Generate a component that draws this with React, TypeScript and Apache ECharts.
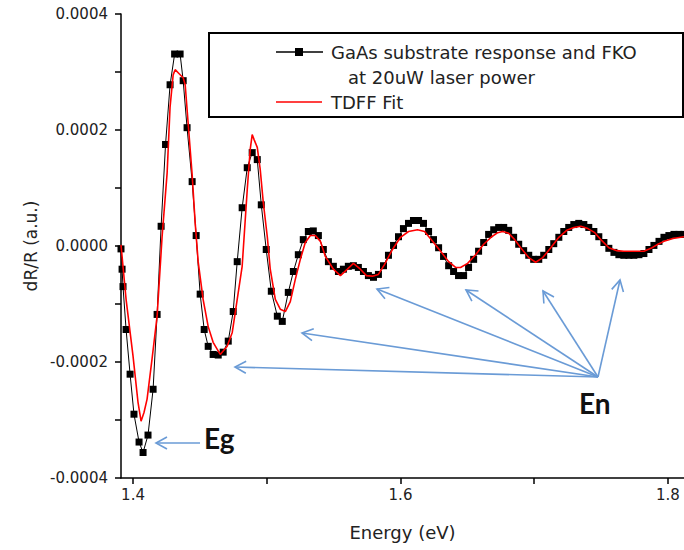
import React, { useEffect, useRef } from "react";
import * as echarts from "echarts";

// Measured spectrum (energy in eV, dR/R in units of 1e-4)
const energy = [
  1.3910, 1.3918, 1.3925, 1.3948, 1.3978, 1.4007, 1.4045, 1.4075, 1.4112, 1.4150,
  1.4180, 1.4210, 1.4243, 1.4277, 1.4311, 1.4352, 1.4375, 1.4404, 1.4442, 1.4472,
  1.4502, 1.4532, 1.4562, 1.4599, 1.4637, 1.4674, 1.4712, 1.4749, 1.4779, 1.4816,
  1.4854, 1.4891, 1.4929, 1.4959, 1.4996, 1.5034, 1.5079, 1.5116, 1.5161, 1.5199,
  1.5236, 1.5273, 1.5311, 1.5348, 1.5386, 1.5423, 1.5461, 1.5498, 1.5536, 1.5573,
  1.5610, 1.5648, 1.5685, 1.5723, 1.5760, 1.5798, 1.5835, 1.5873, 1.5910, 1.5948,
  1.5985, 1.6022, 1.6060, 1.6097, 1.6135, 1.6172, 1.6210, 1.6247, 1.6285, 1.6322,
  1.6360, 1.6397, 1.6434, 1.6472, 1.6509, 1.6547, 1.6584, 1.6622, 1.6659, 1.6697,
  1.6734, 1.6772, 1.6809, 1.6846, 1.6884, 1.6921, 1.6959, 1.6996, 1.7034, 1.7071,
  1.7109, 1.7146, 1.7184, 1.7221, 1.7258, 1.7296, 1.7333, 1.7371, 1.7408, 1.7446,
  1.7483, 1.7521, 1.7558, 1.7596, 1.7633, 1.7670, 1.7708, 1.7745, 1.7783, 1.7820,
  1.7858, 1.7895, 1.7933, 1.7970, 1.8007, 1.8045, 1.8082, 1.8120,
];
const measured = [
  -0.05, -0.40, -0.70, -1.44, -2.21, -2.90, -3.38, -3.56, -3.26, -2.47,
  -1.18, 0.34, 1.75, 2.78, 3.31, 3.31, 2.85, 2.04, 1.11, 0.18,
  -0.83, -1.44, -1.73, -1.87, -1.88, -1.83, -1.64, -1.13, -0.27, 0.66,
  1.35, 1.61, 1.49, 0.71, -0.06, -0.78, -1.21, -1.30, -0.80, -0.44,
  -0.15, 0.11, 0.25, 0.26, 0.18, -0.06, -0.27, -0.35, -0.44, -0.40,
  -0.35, -0.34, -0.37, -0.44, -0.51, -0.54, -0.49, -0.34, -0.16, 0.01,
  0.16, 0.30, 0.39, 0.44, 0.44, 0.39, 0.25, 0.11, -0.03, -0.18,
  -0.34, -0.44, -0.51, -0.51, -0.37, -0.23, -0.09, 0.06, 0.20, 0.28,
  0.32, 0.32, 0.27, 0.15, 0.03, -0.08, -0.16, -0.23, -0.23, -0.16,
  -0.06, 0.04, 0.15, 0.25, 0.32, 0.37, 0.39, 0.37, 0.32, 0.25,
  0.16, 0.06, -0.04, -0.11, -0.15, -0.16, -0.16, -0.16, -0.15, -0.13,
  -0.06, 0.01, 0.08, 0.15, 0.18, 0.20, 0.20, 0.20,
];

// TDFF fit curve
const fitEnergy = [
  1.3910, 1.3948, 1.4000, 1.4037, 1.4060, 1.4082, 1.4105, 1.4142, 1.4180, 1.4217,
  1.4255, 1.4277, 1.4300, 1.4315, 1.4345, 1.4375, 1.4390, 1.4412, 1.4442, 1.4464,
  1.4487, 1.4524, 1.4562, 1.4599, 1.4652, 1.4704, 1.4742, 1.4779, 1.4816, 1.4854,
  1.4876, 1.4891, 1.4906, 1.4929, 1.4951, 1.4974, 1.5004, 1.5026, 1.5064, 1.5101,
  1.5139, 1.5176, 1.5213, 1.5251, 1.5288, 1.5326, 1.5363, 1.5401, 1.5438, 1.5498,
  1.5551, 1.5603, 1.5648, 1.5700, 1.5745, 1.5790, 1.5835, 1.5880, 1.5940, 1.6000,
  1.6060, 1.6127, 1.6180, 1.6240, 1.6300, 1.6360, 1.6412, 1.6449, 1.6502, 1.6562,
  1.6622, 1.6682, 1.6727, 1.6764, 1.6809, 1.6854, 1.6899, 1.6959, 1.7011, 1.7064,
  1.7124, 1.7184, 1.7243, 1.7296, 1.7348, 1.7401, 1.7453, 1.7498, 1.7558, 1.7618,
  1.7670, 1.7820, 1.7873, 1.7925, 1.7970, 1.8037, 1.8120,
];
const fitValues = [
  0.02, -0.92, -1.90, -2.69, -3.02, -2.87, -2.64, -1.95, -1.21, 0.15,
  1.26, 2.40, 2.95, 3.04, 2.97, 2.90, 2.78, 2.12, 1.23, 0.42,
  -0.27, -0.92, -1.39, -1.66, -1.87, -1.73, -1.49, -0.92, -0.35, 0.97,
  1.66, 1.92, 1.83, 1.70, 1.32, 0.75, 0.16, -0.40, -0.92, -1.09,
  -1.13, -0.96, -0.58, -0.23, 0.06, 0.18, 0.18, 0.08, -0.18, -0.40,
  -0.51, -0.40, -0.30, -0.40, -0.51, -0.52, -0.49, -0.32, -0.06, 0.15,
  0.25, 0.28, 0.25, 0.08, -0.09, -0.27, -0.37, -0.37, -0.30, -0.15,
  0.03, 0.16, 0.23, 0.25, 0.22, 0.11, -0.03, -0.20, -0.28, -0.20,
  -0.03, 0.15, 0.27, 0.32, 0.34, 0.30, 0.23, 0.11, -0.03, -0.08,
  -0.09, -0.09, -0.04, 0.03, 0.08, 0.13, 0.16,
];

const xTickValues = [1.4, 1.5, 1.6, 1.7, 1.8];
const xLabelValues = [1.4, 1.6, 1.8];
const yLabelValues = [-4, -2, 0, 2, 4];
const legendLines = ["GaAs substrate response and FKO", "at 20uW laser power", "TDFF Fit"];
const xTitle = "Energy (eV)";
const yTitle = "dR/R (a.u.)";

const FONT = "'DejaVu Sans', Verdana, sans-serif";
const ARROW = "#6a9bd6";

function arrow(x1: number, y1: number, x2: number, y2: number) {
  const dx = x2 - x1, dy = y2 - y1;
  const L = Math.hypot(dx, dy);
  const ux = dx / L, uy = dy / L;
  const h = 11, w = 6;
  const p1 = [x2 - h * ux + w * uy, y2 - h * uy - w * ux];
  const p2 = [x2 - h * ux - w * uy, y2 - h * uy + w * ux];
  return [
    { type: "line", shape: { x1, y1, x2, y2 }, style: { stroke: ARROW, lineWidth: 1.6 } },
    { type: "polyline", shape: { points: [p1, [x2, y2], p2] }, style: { stroke: ARROW, lineWidth: 1.6, fill: null } },
  ];
}

export default function App() {
  const ref = useRef<HTMLDivElement>(null);
  useEffect(() => {
    if (!ref.current) return;
    const chart = echarts.init(ref.current, null, { renderer: "svg" });
    const enOrigin = [598, 377];
    const enTargets = [[235, 367], [302, 333], [377, 289], [466, 290], [543, 291], [620, 280]];
    const arrows: any[] = [];
    enTargets.forEach((t) => arrows.push(...arrow(enOrigin[0], enOrigin[1], t[0], t[1])));
    arrows.push(...arrow(200, 443, 156, 443));

    chart.setOption({
      animation: false,
      backgroundColor: "#fff",
      grid: { left: 121, right: 0, top: 14, bottom: 72, containLabel: false },
      xAxis: {
        type: "value",
        min: 1.391,
        max: 1.812,
        name: xTitle,
        nameLocation: "middle",
        nameGap: 45,
        nameTextStyle: { fontFamily: FONT, fontSize: 18, color: "#222" },
        axisLine: { show: true, onZero: false, lineStyle: { color: "#000", width: 1.5 } },
        axisTick: { show: true, customValues: xTickValues, length: 6, lineStyle: { color: "#000", width: 1.5 } },
        axisLabel: {
          customValues: xLabelValues,
          margin: 9,
          fontFamily: FONT,
          fontSize: 15,
          color: "#222",
          formatter: (v: number) => v.toFixed(1),
        },
        splitLine: { show: false },
      },
      yAxis: {
        type: "value",
        min: -4,
        max: 4,
        interval: 1,
        name: yTitle,
        nameLocation: "middle",
        nameGap: 80,
        nameTextStyle: { fontFamily: FONT, fontSize: 17, color: "#222" },
        axisLine: { show: true, onZero: false, lineStyle: { color: "#000", width: 1.5 } },
        axisTick: { show: true, length: 6, lineStyle: { color: "#000", width: 1.5 } },
        axisLabel: {
          margin: 13,
          fontFamily: FONT,
          fontSize: 15,
          color: "#222",
          formatter: (v: number) =>
            yLabelValues.indexOf(Math.round(v)) >= 0 ? (v * 1e-4).toFixed(4) : "",
        },
        splitLine: { show: false },
      },
      series: [
        {
          name: legendLines[0],
          type: "line",
          data: energy.map((e, i) => [e, measured[i]]),
          symbol: "rect",
          symbolSize: 7,
          itemStyle: { color: "#000" },
          lineStyle: { color: "#000", width: 1 },
          z: 2,
        },
        {
          name: legendLines[2],
          type: "line",
          data: fitEnergy.map((e, i) => [e, fitValues[i]]),
          symbol: "none",
          lineStyle: { color: "#ff0000", width: 1.6 },
          z: 3,
        },
      ],
      graphic: [
        {
          type: "rect",
          shape: { x: 209, y: 33, width: 474, height: 84 },
          style: { fill: "#fff", stroke: "#000", lineWidth: 2 },
          z: 10,
        },
        { type: "line", shape: { x1: 276, y1: 52, x2: 323, y2: 52 }, style: { stroke: "#000", lineWidth: 1.5 }, z: 11 },
        { type: "rect", shape: { x: 295, y: 48, width: 8, height: 8 }, style: { fill: "#000" }, z: 11 },
        {
          type: "text", x: 331, y: 52, z: 11,
          style: { text: legendLines[0], font: `18px ${FONT}`, fill: "#222", textVerticalAlign: "middle" },
        },
        {
          type: "text", x: 348, y: 77, z: 11,
          style: { text: legendLines[1], font: `18px ${FONT}`, fill: "#222", textVerticalAlign: "middle" },
        },
        { type: "line", shape: { x1: 276, y1: 102, x2: 322, y2: 102 }, style: { stroke: "#ff0000", lineWidth: 1.6 }, z: 11 },
        {
          type: "text", x: 331, y: 102, z: 11,
          style: { text: legendLines[2], font: `18px ${FONT}`, fill: "#222", textVerticalAlign: "middle" },
        },
        ...arrows.map((a) => ({ ...a, z: 12 })),
        {
          type: "text", x: 204, y: 438, z: 12,
          style: { text: "Eg", font: "bold 28px Lato, 'Open Sans', sans-serif", fill: "#111", textVerticalAlign: "middle" },
        },
        {
          type: "text", x: 579, y: 403, z: 12,
          style: { text: "En", font: "bold 28px Lato, 'Open Sans', sans-serif", fill: "#111", textVerticalAlign: "middle" },
        },
      ],
    });
    return () => chart.dispose();
  }, []);
  return (
    <div
      ref={ref}
      style={{ position: "fixed", left: 0, top: 0, width: 684, height: 550, background: "#fff" }}
    />
  );
}
